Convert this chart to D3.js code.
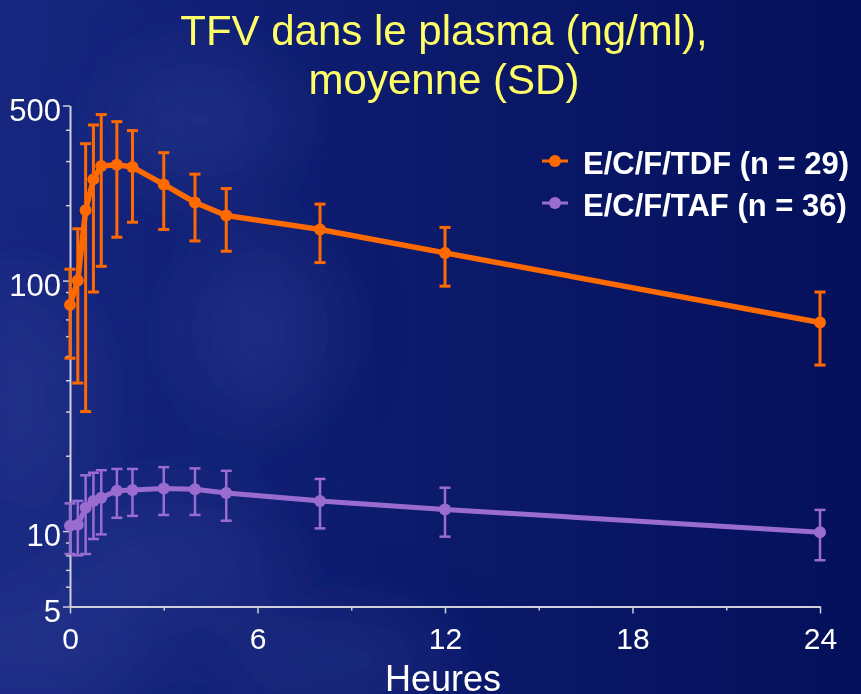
<!DOCTYPE html>
<html>
<head>
<meta charset="utf-8">
<script src="https://cdn.jsdelivr.net/npm/d3@7"></script>
<style>
body { margin: 0; background: #0a1666; }
svg { display: block; font-family: "Liberation Sans", Arial, sans-serif; }
</style>
</head>
<body>
<div id="chart"></div>
<script>
var width = 861, height = 694;

// values (ng/ml)
var hours = [0, 0.25, 0.5, 0.75, 1, 1.5, 2, 3, 4, 5, 8, 12, 24];
var tdfMean = [80, 100, 191, 254, 287, 290, 284, 242, 205, 182, 160, 129, 68];
var tdfSD = [31, 61, 161, 164, 173, 141, 113, 82, 61, 51, 42, 34, 22];
var tafMean = [10.5, 10.6, 12.4, 13.2, 13.6, 14.5, 14.6, 14.8, 14.7, 14.2, 13.2, 12.2, 9.9];
var tafSD = [2.4, 2.6, 4.3, 3.9, 3.9, 3.2, 3.1, 3.2, 3.1, 3.2, 2.95, 2.7, 2.25];

var seriesNames = ["E/C/F/TDF (n = 29)", "E/C/F/TAF (n = 36)"];
var seriesColors = ["#ff6a00", "#9b6ccf"];

var yMajor = [5, 10, 100, 500];
var yMinor = [6, 7, 8, 9, 20, 30, 40, 50, 60, 70, 80, 90, 200, 300, 400];
var xMajor = [0, 6, 12, 18, 24];
var xMinor = [3, 9, 15, 21];

var titleLines = ["TFV dans le plasma (ng/ml),", "moyenne (SD)"];
var xTitle = "Heures";

var series = [
  { name: seriesNames[0], color: seriesColors[0], mean: tdfMean, sd: tdfSD, lw: 5.5, ew: 3 },
  { name: seriesNames[1], color: seriesColors[1], mean: tafMean, sd: tafSD, lw: 5, ew: 2.5 }
];
series.forEach(function (s) {
  s.points = hours.map(function (h, i) { return { x: h, y: s.mean[i], sd: s.sd[i] }; });
});

var svg = d3.select("#chart").append("svg")
  .attr("width", width).attr("height", height);

// background, dark slide blue, a bit lighter and cloudy on the left
var defs = svg.append("defs");
var grad = defs.append("linearGradient").attr("id", "bg")
  .attr("x1", 0).attr("y1", 0).attr("x2", 1).attr("y2", 0);
grad.append("stop").attr("offset", 0).attr("stop-color", "#172780");
grad.append("stop").attr("offset", 0.45).attr("stop-color", "#0d1b6d");
grad.append("stop").attr("offset", 1).attr("stop-color", "#04105b");
defs.append("filter").attr("id", "soft")
  .attr("x", "-60%").attr("y", "-60%").attr("width", "220%").attr("height", "220%")
  .append("feGaussianBlur").attr("stdDeviation", 35);

svg.append("rect").attr("width", width).attr("height", height).attr("fill", "url(#bg)");
var blobs = [[40, 640, 110, 70], [20, 400, 60, 120], [200, 120, 90, 60], [170, 560, 110, 60], [330, 660, 120, 40], [260, 330, 70, 90]];
svg.append("g").attr("filter", "url(#soft)").selectAll("ellipse").data(blobs).enter()
  .append("ellipse")
  .attr("cx", d => d[0]).attr("cy", d => d[1])
  .attr("rx", d => d[2]).attr("ry", d => d[3])
  .attr("fill", "#2e3f98").attr("opacity", 0.4);

var xScale = d3.scaleLinear().domain([0, 24]).range([70, 820]);
var yScale = d3.scaleLog().domain([5, 500]).range([606.5, 105.5]);

var axisColor = "#cfd0dc";

function styleAxis(g, size) {
  g.selectAll("path.domain").attr("stroke", axisColor).attr("stroke-width", 2);
  g.selectAll(".tick line").attr("stroke", axisColor).attr("stroke-width", 1.5);
  g.selectAll(".tick text").attr("fill", "#ffffff").style("font-size", size + "px");
}

// y axis (log)
var yMinorG = svg.append("g").attr("transform", "translate(70,0)")
  .call(d3.axisLeft(yScale).tickValues(yMinor).tickSize(4).tickFormat(""));
yMinorG.select("path.domain").remove();
styleAxis(yMinorG, 31);

var yAxisG = svg.append("g").attr("transform", "translate(70,0)")
  .call(d3.axisLeft(yScale).tickValues(yMajor).tickFormat(d3.format("d"))
    .tickSize(7).tickPadding(2).tickSizeOuter(0));
styleAxis(yAxisG, 31);
yAxisG.selectAll(".tick text").attr("dy", "0.48em");

// x axis
var xMinorG = svg.append("g").attr("transform", "translate(0,606.5)")
  .call(d3.axisBottom(xScale).tickValues(xMinor).tickSize(4).tickFormat(""));
xMinorG.select("path.domain").remove();
styleAxis(xMinorG, 30);

var xAxisG = svg.append("g").attr("transform", "translate(0,606.5)")
  .call(d3.axisBottom(xScale).tickValues(xMajor).tickSize(7).tickPadding(14).tickSizeOuter(0));
styleAxis(xAxisG, 30);

svg.append("text")
  .attr("x", 443).attr("y", 691)
  .attr("text-anchor", "middle")
  .attr("fill", "#ffffff")
  .style("font-size", "36px")
  .text(xTitle);

// title
svg.append("g").selectAll("text").data(titleLines).enter()
  .append("text")
  .attr("x", 444)
  .attr("y", (d, i) => 45 + i * 49)
  .attr("text-anchor", "middle")
  .attr("fill", "#ffff66")
  .style("font-size", "42px")
  .text(d => d);

// series: error bars, then line, then dots
var line = d3.line().x(d => xScale(d.x)).y(d => yScale(d.y));
var capHalf = 5.5;

var sg = svg.selectAll("g.series").data(series).enter()
  .append("g").attr("class", "series");

sg.each(function (s) {
  var g = d3.select(this);
  var bars = g.selectAll("g.err").data(s.points).enter().append("g").attr("class", "err")
    .attr("stroke", s.color).attr("stroke-width", s.ew);
  bars.append("line")
    .attr("x1", d => xScale(d.x)).attr("x2", d => xScale(d.x))
    .attr("y1", d => yScale(d.y + d.sd)).attr("y2", d => yScale(d.y - d.sd));
  bars.append("line")
    .attr("x1", d => xScale(d.x) - capHalf).attr("x2", d => xScale(d.x) + capHalf)
    .attr("y1", d => yScale(d.y + d.sd)).attr("y2", d => yScale(d.y + d.sd));
  bars.append("line")
    .attr("x1", d => xScale(d.x) - capHalf).attr("x2", d => xScale(d.x) + capHalf)
    .attr("y1", d => yScale(d.y - d.sd)).attr("y2", d => yScale(d.y - d.sd));

  g.append("path")
    .attr("d", line(s.points))
    .attr("fill", "none")
    .attr("stroke", s.color)
    .attr("stroke-width", s.lw)
    .attr("stroke-linejoin", "round");

  g.selectAll("circle").data(s.points).enter()
    .append("circle")
    .attr("cx", d => xScale(d.x))
    .attr("cy", d => yScale(d.y))
    .attr("r", 6)
    .attr("fill", s.color);
});

// legend
var lg = svg.append("g").selectAll("g").data(series).enter()
  .append("g")
  .attr("transform", (d, i) => "translate(0," + (161 + i * 42) + ")");
lg.append("line")
  .attr("x1", 542).attr("x2", 568)
  .attr("stroke", d => d.color).attr("stroke-width", 3);
lg.append("circle")
  .attr("cx", 555).attr("r", 6)
  .attr("fill", d => d.color);
lg.append("text")
  .attr("x", 583).attr("y", 13)
  .attr("fill", "#ffffff")
  .style("font-size", "31px")
  .style("font-weight", "bold")
  .text(d => d.name);
</script>
</body>
</html>
